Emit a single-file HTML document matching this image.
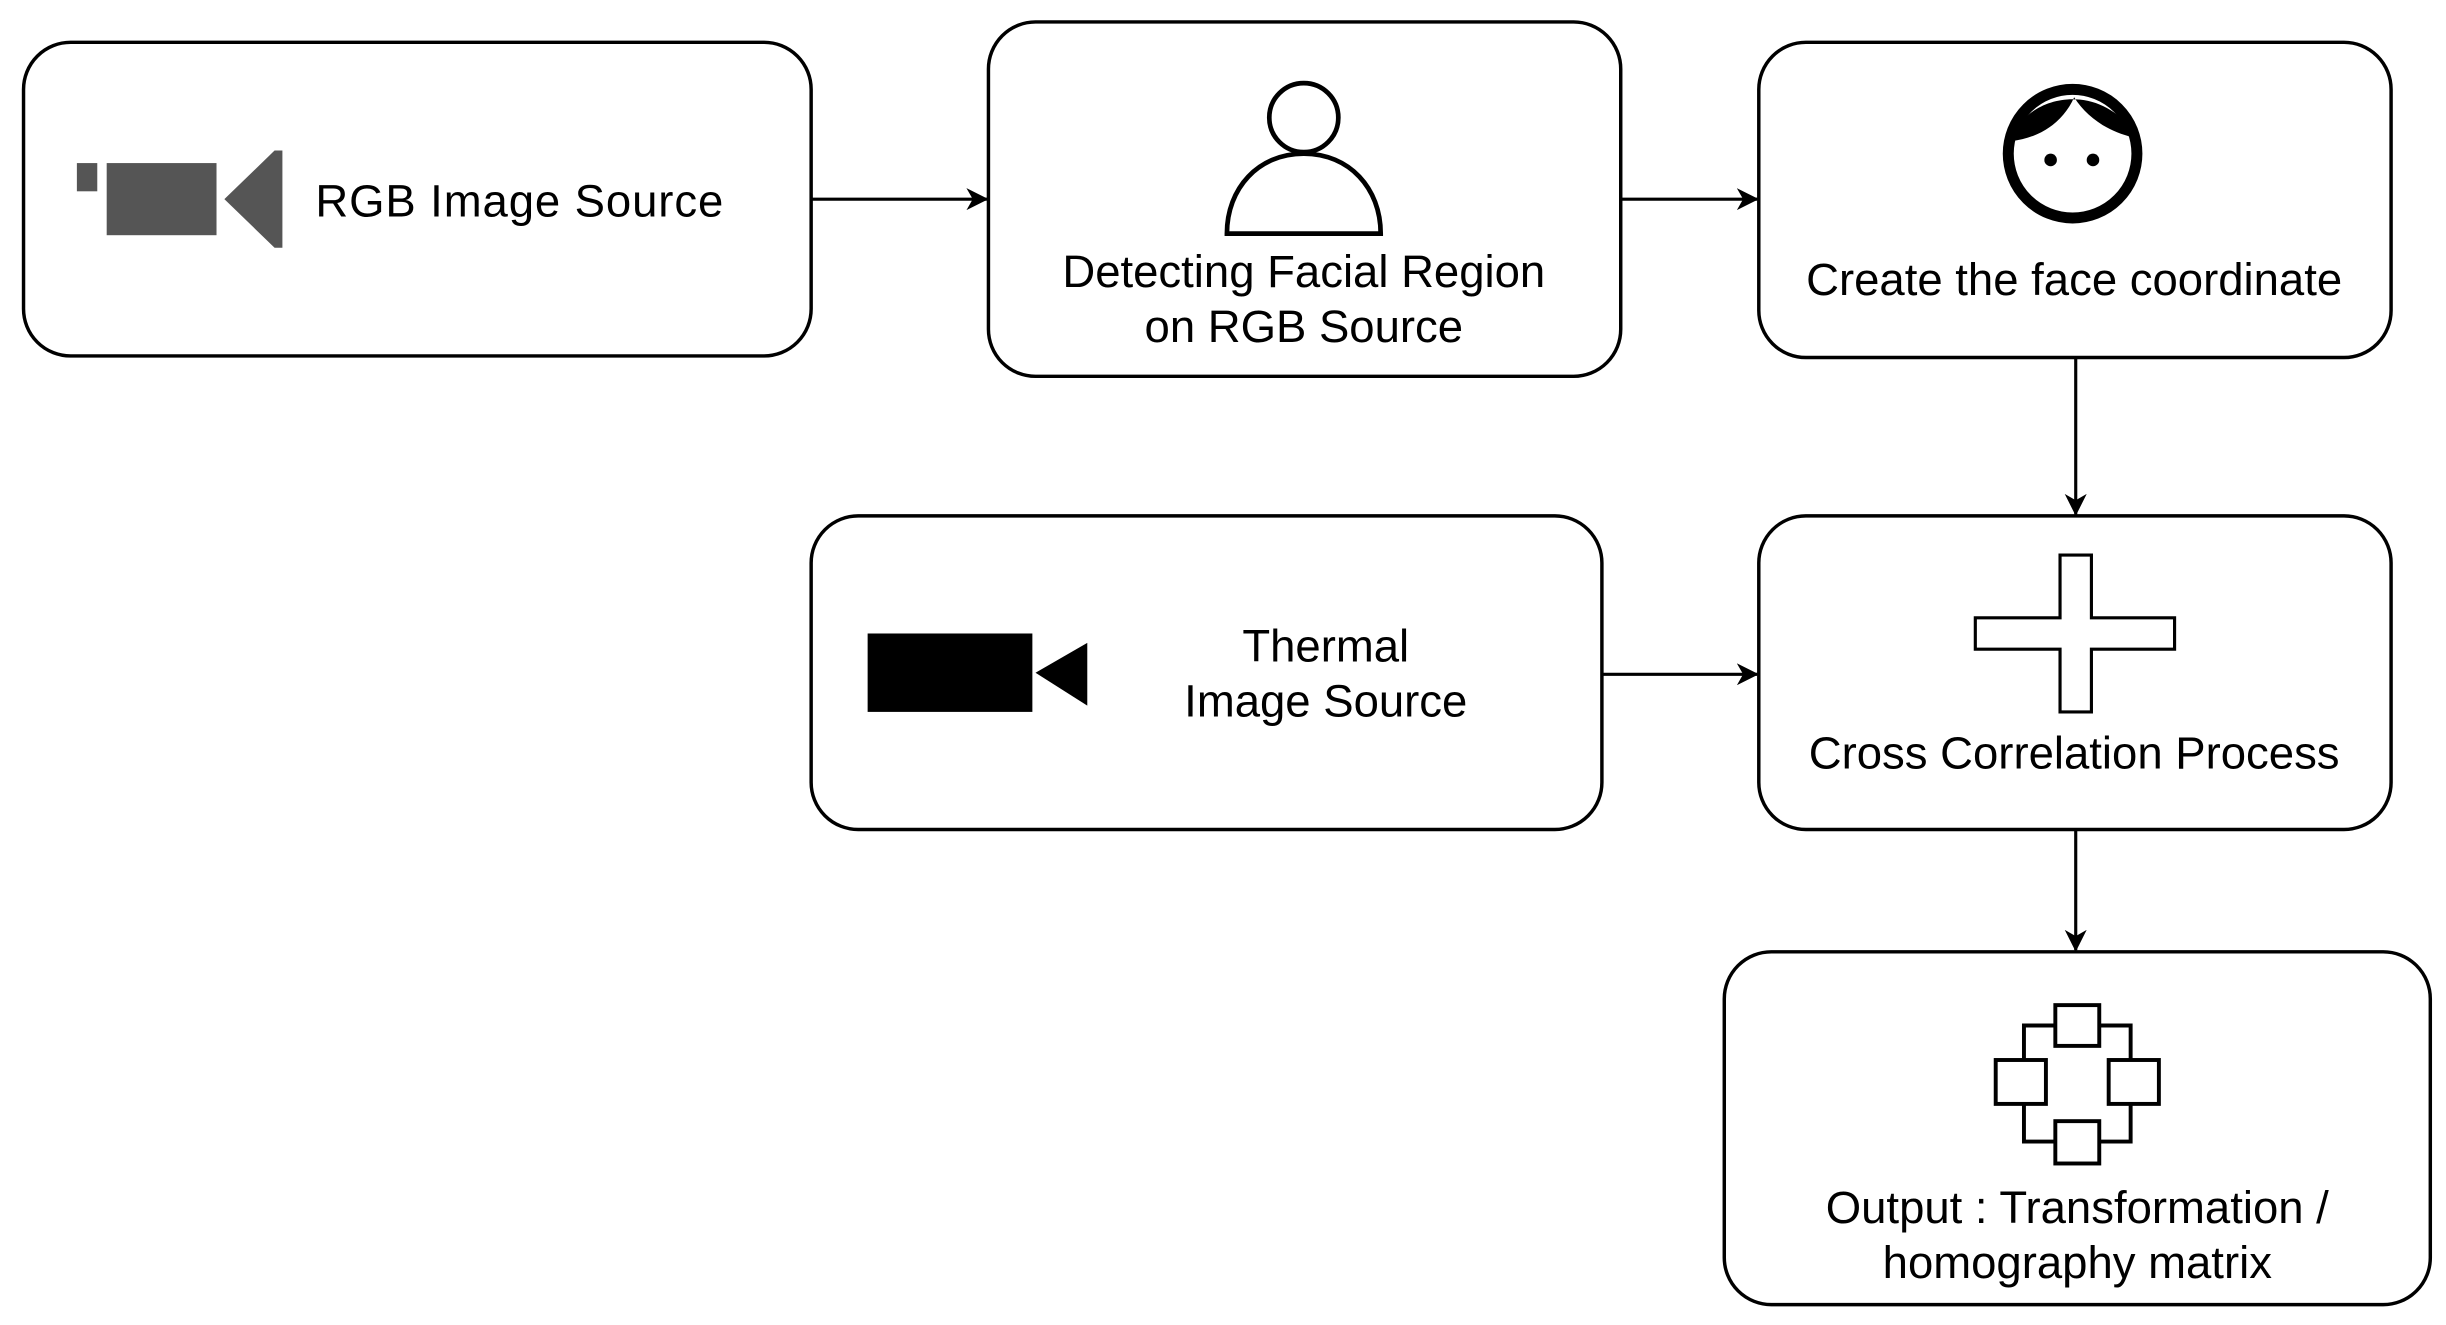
<!DOCTYPE html>
<html><head><style>html,body{margin:0;padding:0;background:#fff}svg{display:block}text{font-family:"Liberation Sans",Arial,sans-serif;font-size:29px}</style></head>
<body>
<svg width="2446" height="1325" viewBox="0 0 1559 845" preserveAspectRatio="none" xmlns="http://www.w3.org/2000/svg" fill="#000">
<defs><marker id="a" markerWidth="14" markerHeight="14" refX="13" refY="7" orient="auto" markerUnits="userSpaceOnUse"><path d="M0,0 L14,7 L0,14 L4,7 Z" fill="#000"/></marker></defs>
<g fill="#fff" stroke="#000" stroke-width="2.2">
<rect x="15" y="27" width="502" height="200" rx="30"/>
<rect x="630" y="14" width="403" height="226" rx="30"/>
<rect x="1121" y="27" width="403" height="201" rx="30"/>
<rect x="517" y="329" width="504" height="200" rx="30"/>
<rect x="1121" y="329" width="403" height="200" rx="30"/>
<rect x="1099" y="607" width="450" height="225" rx="30"/>
</g>
<g stroke="#000" stroke-width="2" fill="none" marker-end="url(#a)">
<line x1="517" y1="127" x2="629" y2="127"/>
<line x1="1033" y1="127" x2="1120" y2="127"/>
<line x1="1323" y1="228" x2="1323" y2="328"/>
<line x1="1021" y1="430" x2="1120" y2="430"/>
<line x1="1323" y1="529" x2="1323" y2="606"/>
</g>
<g fill="#555">
<rect x="49" y="104" width="13" height="18"/>
<rect x="68" y="104" width="70" height="46"/>
<path d="M143,127 L175,96 L180,96 L180,158 L175,158 Z"/>
</g>
<text x="201" y="138" textLength="260">RGB Image Source</text>
<g fill="#fff" stroke="#000" stroke-width="3">
<circle cx="831" cy="75" r="22"/>
<path d="M782,149 L880,149 C880,120 860,98 831,98 C802,98 782,120 782,149 Z"/>
</g>
<text x="831" y="183" text-anchor="middle">Detecting Facial Region</text>
<text x="831" y="218" text-anchor="middle">on RGB Source</text>
<circle cx="1321" cy="98" r="41" fill="#fff" stroke="#000" stroke-width="7"/>
<path d="M1282,90 C1290,60 1340,50 1362,88 C1345,85 1330,75 1322,62 C1315,78 1300,88 1282,90 Z" fill="#000"/>
<circle cx="1307" cy="102" r="4"/><circle cx="1334" cy="102" r="4"/>
<text x="1322" y="188" text-anchor="middle">Create the face coordinate</text>
<rect x="553" y="404" width="105" height="50"/>
<path d="M660,429 L693,410 L693,450 Z"/>
<text x="845" y="422" text-anchor="middle">Thermal</text>
<text x="845" y="457" text-anchor="middle">Image Source</text>
<path d="M1313,354 H1333 V394 H1386 V414 H1333 V454 H1313 V414 H1259 V394 H1313 Z" fill="#fff" stroke="#000" stroke-width="2"/>
<text x="1322" y="490" text-anchor="middle">Cross Correlation Process</text>
<g fill="none" stroke="#000" stroke-width="2.5">
<path d="M1310,654 H1290 V676 M1338,654 H1358 V676 M1290,704 V728 H1310 M1358,704 V728 H1338"/>
<rect x="1310" y="641" width="28" height="26" fill="#fff"/>
<rect x="1272" y="676" width="32" height="28" fill="#fff"/>
<rect x="1344" y="676" width="32" height="28" fill="#fff"/>
<rect x="1310" y="715" width="28" height="27" fill="#fff"/>
</g>
<text x="1324" y="780" text-anchor="middle">Output : Transformation /</text>
<text x="1324" y="815" text-anchor="middle">homography matrix</text>
</svg>
</body></html>
